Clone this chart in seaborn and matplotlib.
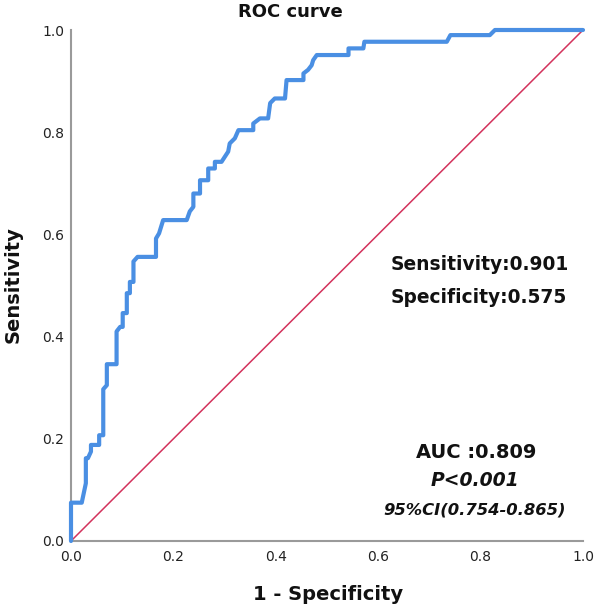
import matplotlib
matplotlib.use("Agg")
import matplotlib.pyplot as plt
import seaborn as sns
import pandas as pd

# ROC curve vertices
fpr = [0.0, 0.0, 0.021, 0.029, 0.029, 0.033, 0.039, 0.039, 0.055, 0.055, 0.063, 0.063,
       0.070, 0.070, 0.089, 0.089, 0.096, 0.101, 0.101, 0.109, 0.109, 0.115, 0.115,
       0.122, 0.122, 0.130, 0.166, 0.166, 0.172, 0.180, 0.226, 0.232, 0.239, 0.239,
       0.252, 0.252, 0.268, 0.268, 0.281, 0.281, 0.294, 0.307, 0.310, 0.320, 0.327,
       0.356, 0.356, 0.369, 0.385, 0.389, 0.398, 0.418, 0.421, 0.454, 0.454, 0.463,
       0.470, 0.473, 0.480, 0.542, 0.542, 0.571, 0.573, 0.734, 0.741, 0.818, 0.828, 1.0]
tpr = [0.0, 0.075, 0.075, 0.113, 0.162, 0.162, 0.175, 0.188, 0.188, 0.207, 0.207, 0.297,
       0.305, 0.346, 0.346, 0.410, 0.419, 0.419, 0.446, 0.446, 0.485, 0.485, 0.507,
       0.507, 0.547, 0.556, 0.556, 0.592, 0.602, 0.628, 0.628, 0.645, 0.654, 0.680,
       0.680, 0.706, 0.706, 0.729, 0.729, 0.742, 0.742, 0.762, 0.778, 0.788, 0.804,
       0.804, 0.817, 0.827, 0.827, 0.857, 0.866, 0.866, 0.902, 0.902, 0.915, 0.922,
       0.931, 0.941, 0.951, 0.951, 0.964, 0.964, 0.977, 0.977, 0.990, 0.990, 1.0, 1.0]
ref_x = [0.0, 1.0]
ref_y = [0.0, 1.0]
tick_vals = [0.0, 0.2, 0.4, 0.6, 0.8, 1.0]
tick_labels = ["0.0", "0.2", "0.4", "0.6", "0.8", "1.0"]

title = "ROC curve"
xlabel = "1 - Specificity"
ylabel = "Sensitivity"
sens_text = "Sensitivity:0.901"
spec_text = "Specificity:0.575"
auc_text = "AUC :0.809"
p_text = "P<0.001"
ci_text = "95%CI(0.754-0.865)"

sns.set_theme(style="white")
plt.rcParams['font.family'] = ['DejaVu Sans']

fig = plt.figure(figsize=(6, 6.15), dpi=100)
ax = fig.add_axes([71/600, 1 - 541/615, 512/600, 511/615])

roc = pd.DataFrame({"fpr": fpr, "tpr": tpr})
diag = pd.DataFrame({"x": ref_x, "y": ref_y})
sns.lineplot(data=diag, x="x", y="y", ax=ax, color="#d3325c", lw=1.1,
             sort=False, estimator=None)
sns.lineplot(data=roc, x="fpr", y="tpr", ax=ax, color="#4a8fe3", lw=3.0,
             sort=False, estimator=None, clip_on=False, zorder=3)

ax.set_xlim(0, 1)
ax.set_ylim(0, 1)
ax.set_xticks(tick_vals)
ax.set_xticklabels(tick_labels)
ax.set_yticks(tick_vals)
ax.set_yticklabels(tick_labels)
ax.tick_params(axis="x", length=0, pad=6.5, labelsize=10, labelcolor="#222222")
ax.tick_params(axis="y", length=0, pad=5, labelsize=10, labelcolor="#222222")
ax.set_xlabel("")
ax.set_ylabel("")
for s in ["top", "right"]:
    ax.spines[s].set_visible(False)
for s in ["left", "bottom"]:
    ax.spines[s].set_color("#9a9a9a")
    ax.spines[s].set_linewidth(1.5)
ax.grid(False)

fig.text(290/600, 1 - 12/615, title, ha="center", va="center",
         fontsize=13, fontweight="bold", color="#111111")
fig.text(328/600, 1 - 594/615, xlabel, ha="center", va="center",
         fontsize=14, fontweight="bold", color="#111111")
fig.text(13/600, 1 - 285/615, ylabel, ha="center", va="center", rotation=90,
         fontsize=14, fontweight="bold", color="#111111")

ax.text(0.624, 0.542, sens_text, ha="left", va="center", fontsize=13.4,
        fontweight="bold", color="#111111")
ax.text(0.624, 0.477, spec_text, ha="left", va="center", fontsize=13.4,
        fontweight="bold", color="#111111")
ax.text(0.792, 0.174, auc_text, ha="center", va="center", fontsize=14,
        fontweight="bold", color="#111111")
ax.text(0.789, 0.119, p_text, ha="center", va="center", fontsize=13.5,
        fontweight="bold", fontstyle="italic", color="#111111")
ax.text(0.789, 0.061, ci_text, ha="center", va="center", fontsize=11.8,
        fontweight="bold", fontstyle="italic", color="#111111")

fig.savefig("out.png", dpi=100, facecolor="white")
